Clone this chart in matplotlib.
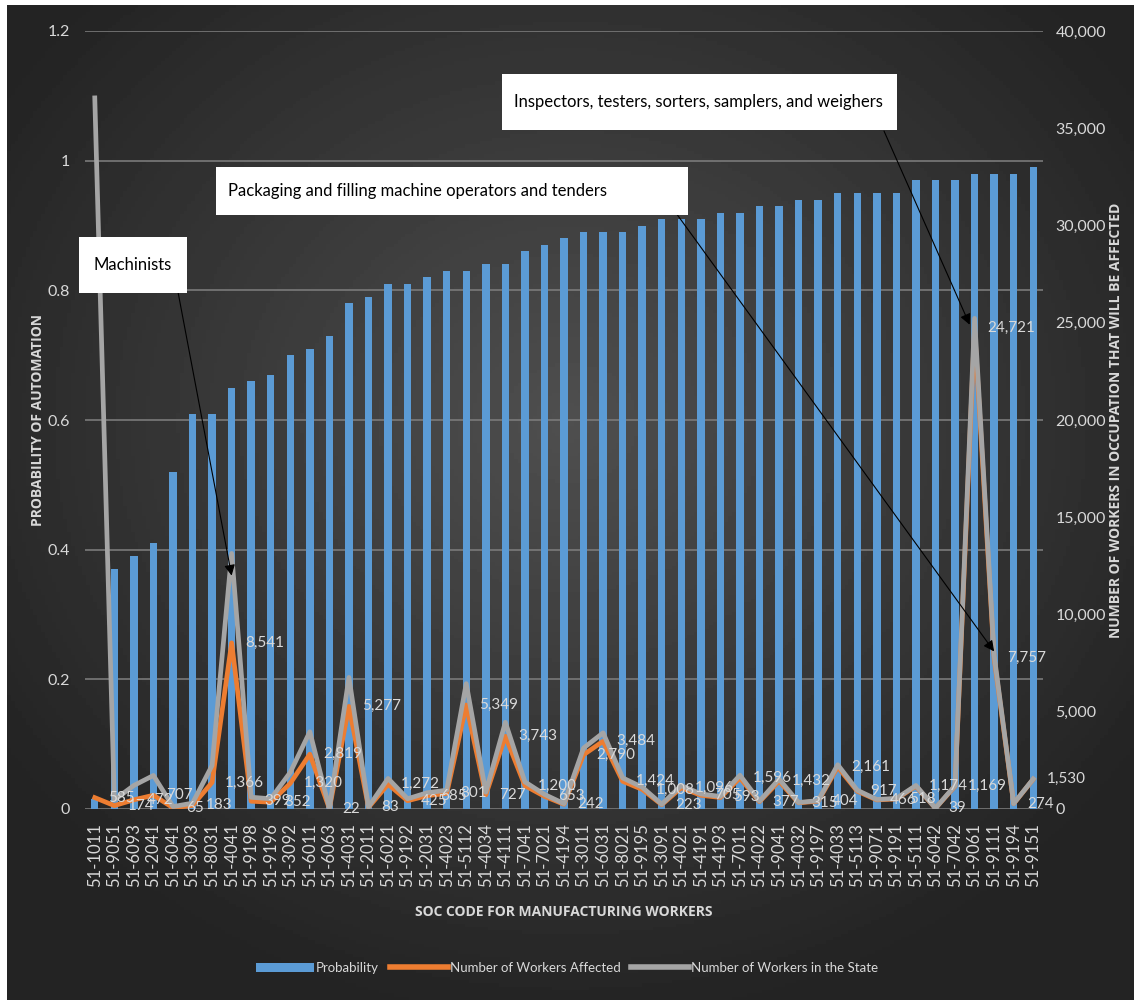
import numpy as np
import matplotlib
matplotlib.use("Agg")
import matplotlib.pyplot as plt
from matplotlib.patches import Rectangle
from matplotlib.lines import Line2D
from matplotlib.ticker import FuncFormatter

# SOC codes, sorted by probability of automation
soc_codes = [
    "51-1011", "51-9051", "51-6093", "51-2041", "51-6041", "51-3093", "51-8031",
    "51-4041", "51-9198", "51-9196", "51-3092", "51-6011", "51-6063", "51-4031",
    "51-2011", "51-6021", "51-9192", "51-2031", "51-4023", "51-5112", "51-4034",
    "51-4111", "51-7041", "51-7021", "51-4194", "51-3011", "51-6031", "51-8021",
    "51-9195", "51-3091", "51-4021", "51-4191", "51-4193", "51-7011", "51-4022",
    "51-9041", "51-4032", "51-9197", "51-4033", "51-5113", "51-9071", "51-9191",
    "51-5111", "51-6042", "51-7042", "51-9061", "51-9111", "51-9194", "51-9151",
]

probability = [
    0.016, 0.37, 0.39, 0.41, 0.52, 0.61, 0.61, 0.65, 0.66, 0.67, 0.70, 0.71,
    0.73, 0.78, 0.79, 0.81, 0.81, 0.82, 0.83, 0.83, 0.84, 0.84, 0.86, 0.87,
    0.88, 0.89, 0.89, 0.89, 0.90, 0.91, 0.91, 0.91, 0.92, 0.92, 0.93, 0.93,
    0.94, 0.94, 0.95, 0.95, 0.95, 0.95, 0.97, 0.97, 0.97, 0.98, 0.98, 0.98,
    0.99,
]

workers_affected = [
    585, 174, 472, 707, 65, 183, 1366, 8541, 399, 352, 1320, 2819, 22, 5277,
    83, 1272, 425, 685, 801, 5349, 727, 3743, 1200, 653, 242, 2790, 3484,
    1424, 1008, 223, 1096, 705, 593, 1596, 377, 1432, 315, 404, 2161, 917,
    466, 518, 1174, 39, 1169, 24721, 7757, 274, 1530,
]

workers_in_state = [
    36560, 470, 1210, 1724, 125, 300, 2239, 13140, 605, 525, 1886, 3970, 30,
    6765, 105, 1570, 525, 835, 965, 6445, 865, 4456, 1395, 750, 275, 3135,
    3915, 1600, 1120, 245, 1204, 775, 645, 1735, 405, 1540, 335, 430, 2275,
    965, 490, 545, 1210, 40, 1205, 25225, 7915, 280, 1545,
]

W, H = 1134, 1000
BLUE = "#5B9BD5"
ORANGE = "#ED7D31"
GRAY = "#A5A5A5"
TEXT = "#d9d9d9"
FONT = ["Lato", "DejaVu Sans"]

fig = plt.figure(figsize=(W / 100, H / 100), dpi=100)
fig.patch.set_facecolor("white")

# dark radial background
bg = fig.add_axes([7 / W, 0, 1 - 7 / W, 995 / H])
gx, gy = np.meshgrid(np.linspace(0, 1, 300), np.linspace(0, 1, 300))
r = np.sqrt(((gx - 0.5) / 0.6) ** 2 + ((gy - 0.42) / 0.6) ** 2)
shade = 0.31 - 0.17 * np.clip(r, 0, 1)
bg.imshow(shade, cmap="gray", vmin=0, vmax=1, aspect="auto", extent=[0, 1, 1, 0])
bg.axis("off")

# plot area
x0, x1, y_top, y_bot = 85, 1043, 31, 809
ax = fig.add_axes([x0 / W, 1 - y_bot / H, (x1 - x0) / W, (y_bot - y_top) / H])
ax.set_facecolor("none")
x = np.arange(len(soc_codes))
ax.bar(x, probability, width=0.38, color=BLUE, zorder=2)
ax.set_xlim(-0.5, len(soc_codes) - 0.5)
ax.set_ylim(0, 1.2)
ax.set_yticks([0, 0.2, 0.4, 0.6, 0.8, 1.0, 1.2])
ax.set_yticklabels(["0", "0.2", "0.4", "0.6", "0.8", "1", "1.2"], family=FONT, fontsize=11.5)
ax.set_xticks(x)
ax.set_xticklabels(soc_codes, rotation=90, family=FONT, fontsize=12)
ax.yaxis.grid(True, color="#7a7a7a", lw=1.2)
ax.set_axisbelow(True)
for s in ax.spines.values():
    s.set_visible(False)
ax.tick_params(axis="y", length=0, colors=TEXT, pad=11)
ax.tick_params(axis="x", length=0, colors=TEXT, pad=10)

# worker counts on the secondary axis
ax2 = ax.twinx()
ax2.set_ylim(0, 40000)
ax2.set_yticks(range(0, 40001, 5000))
ax2.yaxis.set_major_formatter(FuncFormatter(lambda v, p: f"{int(v):,}"))
for lbl in ax2.get_yticklabels():
    lbl.set_family(FONT)
    lbl.set_fontsize(11.5)
ax2.tick_params(axis="y", length=0, colors=TEXT, pad=9)
for s in ax2.spines.values():
    s.set_visible(False)

ax2.plot(x, workers_affected, color=ORANGE, lw=3.4, solid_joinstyle="round", zorder=3)
ax2.plot(x, workers_in_state, color=GRAY, lw=3.4, solid_joinstyle="round", zorder=4)

for i, v in enumerate(workers_affected):
    ax2.annotate(f"{v:,}", (i, v), xytext=(9.5, 0), textcoords="offset points",
                 ha="left", va="center", color=TEXT, family=FONT, fontsize=11,
                 zorder=6, annotation_clip=False)

# axis titles
fig.text(38 / W, 1 - 420 / H, "PROBABILITY OF AUTOMATION", rotation=90, ha="center",
         va="center", color=TEXT, fontsize=10, fontweight="bold", family="Open Sans")
fig.text(1116 / W, 1 - 420 / H, "NUMBER OF WORKERS IN OCCUPATION THAT WILL BE AFFECTED",
         rotation=90, ha="center", va="center", color=TEXT, fontsize=10,
         fontweight="bold", family="Open Sans")
fig.text(564 / W, 1 - 912 / H, "SOC CODE FOR MANUFACTURING WORKERS", ha="center",
         va="center", color=TEXT, fontsize=10, fontweight="bold", family="Open Sans")

# callout boxes: (left, top, right, bottom) in pixels, text, text x, text align
callouts = [
    ((79, 237, 187, 293), "Machinists", 133, "center"),
    ((216, 167, 688, 215), "Packaging and filling machine operators and tenders", 228, "left"),
    ((502, 74, 897, 130), "Inspectors, testers, sorters, samplers, and weighers", 514, "left"),
]
for (l, t, rgt, b), label, tx, align in callouts:
    fig.add_artist(Rectangle((l / W, 1 - b / H), (rgt - l) / W, (b - t) / H,
                             transform=fig.transFigure, facecolor="white",
                             edgecolor="none", zorder=10))
    fig.text(tx / W, 1 - (t + b) / 2 / H, label, ha=align, va="center",
             color="black", fontsize=12, family=FONT, zorder=11)

# arrows from the callouts to their occupations
arrows = [
    ((178, 292), 7, 12000),
    ((676, 213), 46, 8100),
    ((884, 131), 44.75, 24900),
]
for (px, py), xi, yv in arrows:
    ax2.annotate("", xy=(xi, yv), xycoords="data", xytext=(px / W, 1 - py / H),
                 textcoords="figure fraction",
                 arrowprops=dict(arrowstyle="-|>", color="black", lw=0.8,
                                 mutation_scale=16, shrinkA=0, shrinkB=0),
                 zorder=7, annotation_clip=False)

# legend
handles = [
    Rectangle((0, 0), 1, 1, facecolor=BLUE),
    Line2D([0], [0], color=ORANGE, lw=4),
    Line2D([0], [0], color=GRAY, lw=4),
]
labels = ["Probability", "Number of Workers Affected", "Number of Workers in the State"]
leg = fig.legend(handles, labels, loc="center", bbox_to_anchor=(567 / W, 1 - 968 / H),
                 ncol=3, frameon=False, handlelength=4.4, handleheight=0.7,
                 columnspacing=0.8, handletextpad=0.15,
                 prop={"family": FONT, "size": 9.5})
for t in leg.get_texts():
    t.set_color(TEXT)

fig.savefig("out.png", dpi=100)
